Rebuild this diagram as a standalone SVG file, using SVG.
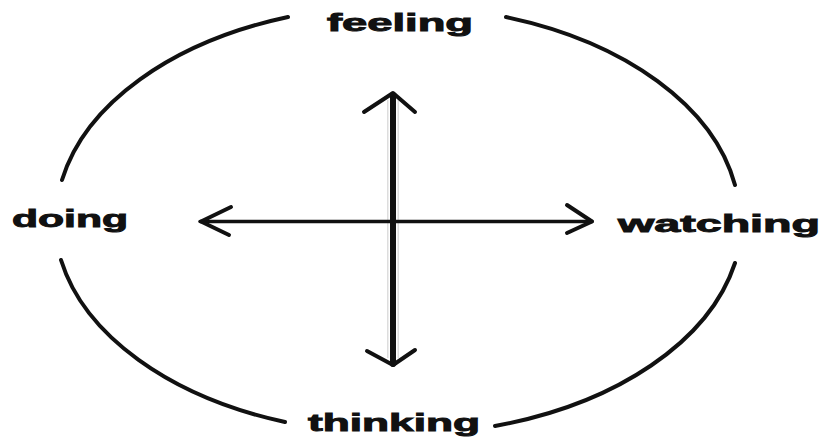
<svg xmlns="http://www.w3.org/2000/svg" width="823" height="440" viewBox="0 0 823 440">
<style>
.lbl{font-family:"Liberation Sans",Arial,sans-serif;font-weight:bold;font-size:23px;fill:#111;stroke:#111;stroke-width:0.9}
.arc{fill:none;stroke:#111;stroke-width:4;stroke-linecap:round}
.ax{fill:none;stroke:#111;stroke-linecap:round;stroke-linejoin:round}
</style>
<rect width="823" height="440" fill="#fff"/>
<g id="connectors">
<path class="arc" d="M62 180 A342 215 0 0 1 288 17"/>
<path class="arc" d="M506 17 A342 215 0 0 1 735 185"/>
<path class="arc" d="M735 263 A342 215 0 0 1 495 426"/>
<path class="arc" d="M285 422 A342 215 0 0 1 61 260"/>
<line x1="393" y1="100" x2="393" y2="358" stroke="#ddd" stroke-width="12"/>
<line x1="393" y1="100" x2="393" y2="358" stroke="#fff" stroke-width="9"/>
<line class="ax" x1="200" y1="221.5" x2="592" y2="221.5" stroke-width="3.5"/>
<polyline class="ax" points="231,207 201,221.5 229,235" stroke-width="4"/>
<polyline class="ax" points="567,205 592,221.5 567,233" stroke-width="4"/>
<line class="ax" x1="393" y1="95" x2="393" y2="364" stroke-width="6"/>
<polyline class="ax" points="364,112 393,93 415,112" stroke-width="4"/>
<polyline class="ax" points="367,351 393,365 415,350" stroke-width="4"/>
</g>
<g id="feeling"><text class="lbl" x="327" y="31" textLength="146" lengthAdjust="spacingAndGlyphs">feeling</text></g>
<g id="doing"><text class="lbl" x="12" y="227" textLength="116" lengthAdjust="spacingAndGlyphs">doing</text></g>
<g id="watching"><text class="lbl" x="618" y="232" textLength="202" lengthAdjust="spacingAndGlyphs">watching</text></g>
<g id="thinking"><text class="lbl" x="308" y="431" textLength="172" lengthAdjust="spacingAndGlyphs">thinking</text></g>
</svg>
